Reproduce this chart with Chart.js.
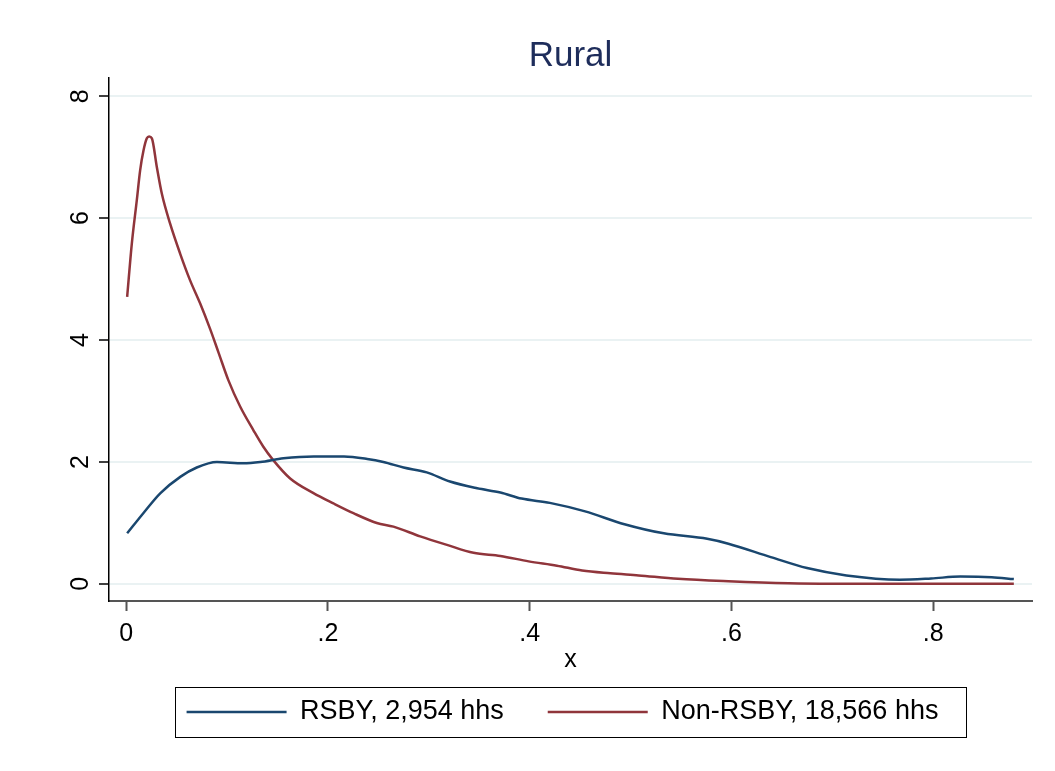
<!DOCTYPE html>
<html><head><meta charset="utf-8">
<script src="https://cdn.jsdelivr.net/npm/chart.js@4.4.1/dist/chart.umd.min.js"></script>
<style>html,body{margin:0;padding:0;background:#fff}#wrap{width:1055px;height:771px;position:relative}</style>
</head><body><div id="wrap"><canvas id="c" width="1055" height="771"></canvas></div>
<script>
const titleText = 'Rural';
const xAxisTitle = 'x';
const xTicks = [0, 0.2, 0.4, 0.6, 0.8];
const xTickLabels = ['0', '.2', '.4', '.6', '.8'];
const yTicks = [0, 2, 4, 6, 8];
const yTickLabels = ['0', '2', '4', '6', '8'];
const seriesNames = ['RSBY, 2,954 hhs', 'Non-RSBY, 18,566 hhs'];

const rsbyX = [0.001,0.017,0.034,0.054,0.070,0.090,0.116,0.133,0.156,0.186,0.216,0.239,0.255,0.275,0.298,0.321,0.348,0.371,0.392,0.420,0.455,0.494,0.533,0.576,0.597,0.639,0.675,0.714,0.767,0.798,0.827,0.858,0.880];
const rsbyY = [0.83,1.16,1.49,1.76,1.91,2.00,1.98,2.00,2.06,2.09,2.09,2.05,2.00,1.91,1.83,1.68,1.57,1.50,1.40,1.33,1.19,0.98,0.83,0.74,0.66,0.44,0.26,0.14,0.07,0.09,0.12,0.11,0.08];

const nonX = [0.001,0.0056,0.0106,0.0139,0.0172,0.0205,0.0228,0.0255,0.0304,0.0354,0.0436,0.0535,0.0634,0.0734,0.0833,0.0915,0.1014,0.113,0.1262,0.136,0.1454,0.1626,0.1857,0.2055,0.2253,0.2485,0.265,0.2915,0.318,0.3443,0.371,0.399,0.427,0.452,0.48,0.508,0.547,0.597,0.657,0.70,0.75,0.80,0.88];
const nonY = [4.71,5.58,6.30,6.79,7.11,7.31,7.34,7.31,6.84,6.40,5.91,5.42,4.98,4.60,4.18,3.80,3.34,2.91,2.52,2.25,2.04,1.73,1.49,1.32,1.16,1.00,0.94,0.78,0.64,0.51,0.46,0.37,0.30,0.22,0.175,0.14,0.085,0.045,0.012,0.004,0.003,0.003,0.003];

const FONT = "'Liberation Sans', Arial, Helvetica, sans-serif";
Chart.defaults.font.family = FONT;

const legendShift = {
  id: 'legendShift',
  afterLayout(chart) {
    const lg = chart.legend;
    if (!lg) return;
    lg.left -= 8;
    lg.right -= 8;
  }
};

const legendBorder = {
  id: 'legendBorder',
  afterDraw(chart) {
    const lg = chart.legend;
    if (!lg || !lg.legendHitBoxes || !lg.legendHitBoxes.length) return;
    const hb = lg.legendHitBoxes;
    const first = hb[0], last = hb[hb.length - 1];
    const left = first.left - 12;
    const right = last.left + last.width + 27;
    const cy = first.top + first.height / 2;
    const ctx = chart.ctx;
    ctx.save();
    ctx.strokeStyle = '#000';
    ctx.lineWidth = 1;
    ctx.strokeRect(Math.round(left) + 0.5, Math.round(cy - 25) + 0.5, Math.round(right - left), 50);
    ctx.restore();
  }
};

const toPts = (xs, ys) => xs.map((x, i) => ({x: x, y: ys[i]}));

new Chart(document.getElementById('c'), {
  type: 'line',
  data: {
    datasets: [
      {label: seriesNames[0], data: toPts(rsbyX, rsbyY), borderColor: '#1a476f', backgroundColor: '#1a476f', borderWidth: 2.5, pointRadius: 0, cubicInterpolationMode: 'monotone', fill: false},
      {label: seriesNames[1], data: toPts(nonX, nonY), borderColor: '#90353b', backgroundColor: '#90353b', borderWidth: 2.5, pointRadius: 0, cubicInterpolationMode: 'monotone', fill: false}
    ]
  },
  options: {
    responsive: false,
    animation: false,
    devicePixelRatio: 1,
    layout: {padding: {left: 0, right: 23, top: 0, bottom: 35.5}},
    plugins: {
      tooltip: {enabled: false},
      title: {display: true, text: titleText, fullSize: false, color: '#1e2d5b', font: {size: 35, weight: 'normal', family: FONT}, padding: {top: 35, bottom: 1}},
      legend: {
        display: true, position: 'bottom', fullSize: false, align: 'center',
        labels: {usePointStyle: true, pointStyle: 'line', pointStyleWidth: 100, boxHeight: 27, font: {size: 27, family: FONT}, color: '#000', padding: 44}
      }
    },
    scales: {
      x: {
        type: 'linear', min: -0.017, max: 0.898,
        afterBuildTicks: s => { s.ticks = xTicks.map(v => ({value: v})); },
        afterFit: s => { s.height = 53.5; },
        ticks: {autoSkip: false, maxRotation: 0, minRotation: 0, padding: 8, color: '#000', font: {size: 25, family: FONT}, callback: (v, i) => xTickLabels[i]},
        grid: {drawOnChartArea: false, drawTicks: true, tickLength: 10, tickColor: '#555', tickWidth: 2},
        border: {display: true, color: '#555', width: 2},
        title: {display: true, text: xAxisTitle, color: '#000', font: {size: 25, family: FONT}, padding: {top: 0, bottom: -21}}
      },
      y: {
        type: 'linear', min: -0.28, max: 8.3,
        afterBuildTicks: s => { s.ticks = yTicks.map(v => ({value: v})); },
        afterFit: s => { s.width = 109; },
        ticks: {autoSkip: false, minRotation: 90, maxRotation: 90, padding: 18, labelOffset: -7, color: '#000', font: {size: 25, family: FONT}, callback: (v, i) => yTickLabels[i]},
        grid: {color: '#eaf2f3', lineWidth: 2, drawTicks: true, tickLength: 10, tickColor: '#000', tickWidth: 1.5},
        border: {display: true, color: '#000', width: 1.5}
      }
    }
  },
  plugins: [legendShift, legendBorder]
});
</script>
</body></html>
